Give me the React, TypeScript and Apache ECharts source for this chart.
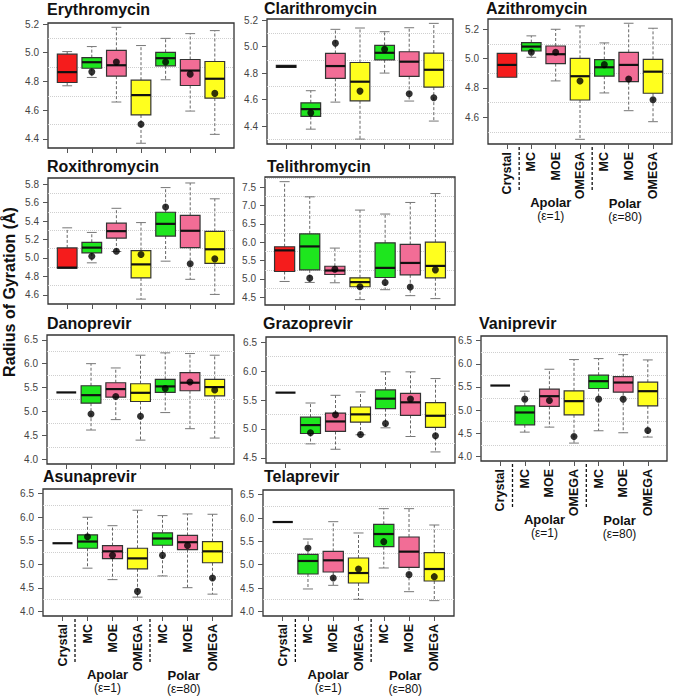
import React, { useEffect, useRef } from "react";
import * as echarts from "echarts";

const CATS = ["Crystal", "MC", "MOE", "OMEGA", "MC", "MOE", "OMEGA"];
const COLORS = ["#F51C1C", "#1EE61E", "#F26D96", "#FFFF1E", "#1EE61E", "#F26D96", "#FFFF1E"];
const FONT = "'Liberation Sans', Arial, Helvetica, sans-serif";

// each box: [lowWhisker, Q1, median, Q3, highWhisker]; dots for MC..OMEGA (categories 2..7)
const erythroBox = [
  [4.77, 4.793, 4.865, 4.99, 5.008],
  [4.828, 4.892, 4.934, 4.966, 5.043],
  [4.657, 4.837, 4.913, 5.017, 5.177],
  [4.37, 4.567, 4.705, 4.809, 5.05],
  [4.812, 4.909, 4.962, 5.003, 5.1],
  [4.594, 4.772, 4.876, 4.953, 5.133],
  [4.432, 4.684, 4.819, 4.939, 5.154],
];
const erythroDots = [4.867, 4.936, 4.502, 4.936, 4.851, 4.717];

const clariBox = [
  [4.843, 4.843, 4.85, 4.858, 4.858],
  [4.377, 4.473, 4.528, 4.576, 4.667],
  [4.581, 4.76, 4.853, 4.948, 5.13],
  [4.302, 4.591, 4.735, 4.88, 5.14],
  [4.8, 4.9, 4.953, 5.009, 5.112],
  [4.589, 4.775, 4.886, 4.961, 5.142],
  [4.438, 4.694, 4.825, 4.951, 5.175],
];
const clariDots = [4.5, 5.026, 4.664, 4.979, 4.644, 4.614];

const aziBox = [
  [4.873, 4.873, 4.957, 5.036, 5.036],
  [5.009, 5.052, 5.082, 5.109, 5.155],
  [4.848, 4.966, 5.03, 5.086, 5.2],
  [4.45, 4.718, 4.88, 5.002, 5.223],
  [4.766, 4.88, 4.941, 4.993, 5.107],
  [4.645, 4.843, 4.957, 5.043, 5.241],
  [4.57, 4.764, 4.911, 4.995, 5.207],
];
const aziDots = [5.043, 5.043, 4.848, 4.959, 4.861, 4.72];

const roxiBox = [
  [4.89, 4.89, 4.895, 5.109, 5.327],
  [4.947, 5.055, 5.112, 5.17, 5.277],
  [5.07, 5.216, 5.291, 5.377, 5.539],
  [4.553, 4.783, 4.93, 5.08, 5.384],
  [4.965, 5.238, 5.37, 5.496, 5.764],
  [4.768, 5.112, 5.295, 5.463, 5.814],
  [4.604, 4.94, 5.094, 5.288, 5.642],
];
const roxiDots = [5.019, 5.073, 5.037, 5.553, 4.937, 4.99];

const teliBox = [
  [4.932, 5.203, 5.779, 5.878, 7.653],
  [4.905, 5.248, 5.887, 6.23, 7.239],
  [4.896, 5.122, 5.23, 5.347, 5.842],
  [4.437, 4.788, 4.914, 5.032, 6.878],
  [4.707, 5.04, 5.302, 5.986, 6.77],
  [4.545, 5.113, 5.437, 5.941, 7.086],
  [4.464, 5.032, 5.356, 6.004, 7.329],
];
const teliDots = [5.022, 5.266, 4.788, 4.905, 4.779, 5.248];

const danoBox = [
  [5.398, 5.398, 5.398, 5.398, 5.398],
  [4.611, 5.173, 5.341, 5.538, 6.0],
  [4.829, 5.299, 5.468, 5.601, 5.91],
  [4.4, 5.208, 5.39, 5.58, 6.177],
  [4.976, 5.398, 5.524, 5.671, 6.226],
  [4.639, 5.433, 5.601, 5.812, 6.212],
  [4.443, 5.327, 5.51, 5.671, 6.177],
];
const danoDots = [4.948, 5.313, 4.899, 5.482, 5.615, 5.447];

const grazoBox = [
  [5.627, 5.627, 5.627, 5.627, 5.627],
  [4.743, 4.922, 5.067, 5.205, 5.448],
  [4.65, 4.957, 5.13, 5.275, 5.581],
  [4.9, 5.119, 5.252, 5.379, 5.639],
  [5.02, 5.35, 5.523, 5.673, 5.986],
  [4.87, 5.234, 5.46, 5.616, 5.986],
  [4.604, 5.026, 5.228, 5.454, 5.87],
];
const grazoDots = [4.934, 5.246, 4.905, 5.096, 5.517, 4.882];

const vaniBox = [
  [5.53, 5.53, 5.53, 5.53, 5.53],
  [4.524, 4.682, 4.948, 5.092, 5.408],
  [4.632, 5.078, 5.3, 5.451, 5.882],
  [4.287, 4.898, 5.193, 5.415, 6.091],
  [4.553, 5.466, 5.624, 5.753, 6.112],
  [4.51, 5.386, 5.595, 5.724, 6.198],
  [4.417, 5.092, 5.408, 5.602, 6.083],
];
const vaniDots = [5.236, 5.207, 4.431, 5.236, 5.236, 4.56];

const asunaBox = [
  [5.447, 5.447, 5.447, 5.447, 5.447],
  [4.917, 5.34, 5.483, 5.626, 5.999],
  [4.673, 5.118, 5.275, 5.397, 5.82],
  [4.301, 4.903, 5.125, 5.34, 6.149],
  [4.752, 5.404, 5.547, 5.669, 6.034],
  [4.502, 5.311, 5.469, 5.612, 6.07],
  [4.365, 5.032, 5.275, 5.483, 6.063],
];
const asunaDots = [5.583, 5.189, 4.423, 5.189, 5.397, 4.709];

const telaBox = [
  [5.914, 5.914, 5.914, 5.914, 5.914],
  [4.479, 4.8, 5.079, 5.221, 5.55],
  [4.557, 4.843, 5.093, 5.286, 5.921],
  [4.257, 4.607, 4.821, 5.143, 5.679],
  [4.929, 5.386, 5.657, 5.864, 6.2],
  [4.421, 4.943, 5.279, 5.593, 6.2],
  [4.229, 4.65, 4.907, 5.257, 5.85],
];
const telaDots = [5.357, 4.714, 4.907, 5.493, 4.786, 4.743];

const ticksMacA = [4.4, 4.6, 4.8, 5.0, 5.2];
const ticksAzi = [4.6, 4.8, 5.0, 5.2];
const ticksRoxi = [4.6, 4.8, 5.0, 5.2, 5.4, 5.6, 5.8];
const ticksTeli = [4.5, 5.0, 5.5, 6.0, 6.5, 7.0, 7.5];
const ticksPrevir = [4.0, 4.5, 5.0, 5.5, 6.0, 6.5];
const ticksGrazo = [4.5, 5.0, 5.5, 6.0, 6.5];

const panels = [
  { name: "Erythromycin", box: erythroBox, dots: erythroDots, yr: [4.337, 5.207], ticks: ticksMacA, grid: [48, 23, 186, 125], title: [47, 1], labels: false },
  { name: "Clarithromycin", box: clariBox, dots: clariDots, yr: [4.265, 5.208], ticks: ticksMacA, grid: [267, 19, 186, 125], title: [264, 0], labels: false },
  { name: "Azithromycin", box: aziBox, dots: aziDots, yr: [4.418, 5.27], ticks: ticksAzi, grid: [488, 19, 184, 125], title: [486, 0], labels: true },
  { name: "Roxithromycin", box: roxiBox, dots: roxiDots, yr: [4.5, 5.868], ticks: ticksRoxi, grid: [48, 178, 186, 126], title: [47, 158], labels: false },
  { name: "Telithromycin", box: teliBox, dots: teliDots, yr: [4.29, 7.78], ticks: ticksTeli, grid: [265, 177, 190, 128], title: [267, 158], labels: false },
  { name: "Danoprevir", box: danoBox, dots: danoDots, yr: [3.9, 6.6], ticks: ticksPrevir, grid: [47, 335, 187, 129], title: [47, 315], labels: false },
  { name: "Grazoprevir", box: grazoBox, dots: grazoDots, yr: [4.413, 6.587], ticks: ticksGrazo, grid: [266, 337, 189, 126], title: [263, 315], labels: false },
  { name: "Vaniprevir", box: vaniBox, dots: vaniDots, yr: [3.9, 6.6], ticks: ticksPrevir, grid: [481, 336, 186, 125], title: [479, 315], labels: true },
  { name: "Asunaprevir", box: asunaBox, dots: asunaDots, yr: [3.9, 6.6], ticks: ticksPrevir, grid: [43, 489, 189, 127], title: [43, 468], labels: true },
  { name: "Telaprevir", box: telaBox, dots: telaDots, yr: [3.9, 6.6], ticks: ticksPrevir, grid: [263, 490, 191, 126], title: [264, 468], labels: true },
];

const XPOS = [1, 2, 3, 4, 5, 6, 7];
const XMIN = 0.22;
const XMAX = 7.78;

function renderBox(params: any, api: any) {
  const x = api.value(0);
  const lo = api.value(1), q1 = api.value(2), md = api.value(3), q3 = api.value(4), hi = api.value(5);
  const half = api.size([0.8, 0])[0] / 2;
  const cap = half * 0.5;
  const pLo = api.coord([x, lo]);
  const pQ1 = api.coord([x, q1]);
  const pMd = api.coord([x, md]);
  const pQ3 = api.coord([x, q3]);
  const pHi = api.coord([x, hi]);
  const cx = pMd[0];
  const fill = COLORS[Math.round(x) - 1];
  const children: any[] = [];
  if (hi > q3) {
    children.push({ type: "line", shape: { x1: cx, y1: pQ3[1], x2: cx, y2: pHi[1] }, style: { stroke: "#666", lineWidth: 1, lineDash: [3, 2] } });
    children.push({ type: "line", shape: { x1: cx - cap, y1: pHi[1], x2: cx + cap, y2: pHi[1] }, style: { stroke: "#777", lineWidth: 1 } });
  }
  if (lo < q1) {
    children.push({ type: "line", shape: { x1: cx, y1: pQ1[1], x2: cx, y2: pLo[1] }, style: { stroke: "#666", lineWidth: 1, lineDash: [3, 2] } });
    children.push({ type: "line", shape: { x1: cx - cap, y1: pLo[1], x2: cx + cap, y2: pLo[1] }, style: { stroke: "#777", lineWidth: 1 } });
  }
  if (q3 > q1) {
    children.push({ type: "rect", shape: { x: cx - half, y: pQ3[1], width: 2 * half, height: pQ1[1] - pQ3[1] }, style: { fill, stroke: "#333", lineWidth: 1.2 } });
  }
  children.push({ type: "line", shape: { x1: cx - half, y1: pMd[1], x2: cx + half, y2: pMd[1] }, style: { stroke: "#111", lineWidth: 2.2 } });
  return { type: "group", children };
}

export default function App() {
  const ref = useRef<HTMLDivElement>(null);
  useEffect(() => {
    const chart = echarts.init(ref.current!, null, { renderer: "svg" });
    const grids: any[] = [];
    const xAxes: any[] = [];
    const yAxes: any[] = [];
    const series: any[] = [];
    const graphic: any[] = [];
    panels.forEach((p, k) => {
      const [gl0, gt0, gw, gh] = p.grid;
      grids.push({
        left: gl0, top: gt0, width: gw, height: gh,
        show: true, borderColor: "#333", borderWidth: 1.3,
        containLabel: false, outerBoundsMode: "none",
      });
      xAxes.push({
        type: "value", gridIndex: k, min: XMIN, max: XMAX,
        axisLine: { show: false }, splitLine: { show: false },
        axisTick: { show: true, customValues: XPOS, length: 5, lineStyle: { color: "#555" } },
        axisLabel: p.labels
          ? { show: true, customValues: XPOS, formatter: (v: number) => CATS[Math.round(v) - 1], rotate: 90, fontWeight: "bold", fontSize: 12.5, color: "#111", margin: 8, fontFamily: FONT, hideOverlap: false }
          : { show: false },
      });
      yAxes.push({
        type: "value", gridIndex: k, min: p.yr[0], max: p.yr[1],
        axisLine: { show: false }, splitLine: { show: false },
        axisTick: { show: true, customValues: p.ticks, length: 5, lineStyle: { color: "#555" } },
        axisLabel: { show: true, customValues: p.ticks, formatter: (v: number) => v.toFixed(1), fontSize: 10, color: "#444", margin: 9, fontFamily: FONT, hideOverlap: false, showMinLabel: true, showMaxLabel: true },
      });
      const step = p.ticks[1] - p.ticks[0];
      const gl: number[] = [];
      for (let t = p.ticks[0] - step / 2; t < p.yr[1]; t += step) if (t > p.yr[0]) gl.push(+t.toFixed(3));
      series.push({
        type: "custom", xAxisIndex: k, yAxisIndex: k, renderItem: renderBox, clip: false, z: 2,
        encode: { x: 0, y: [1, 2, 3, 4, 5] },
        data: p.box.map((b, i) => [XPOS[i], ...b]),
        silent: true,
      });
      series.push({
        type: "scatter", xAxisIndex: k, yAxisIndex: k, symbolSize: 7, z: 3, silent: true, clip: false,
        itemStyle: { color: "#000" },
        data: p.dots.map((v, i) => [XPOS[i + 1], v]),
        markLine: {
          silent: true, symbol: ["none", "none"], label: { show: false }, z: 1,
          lineStyle: { color: "#cfcfcf", type: "dotted", width: 1 },
          data: gl.map((v) => ({ yAxis: v })),
        },
      });

      graphic.push({
        type: "text", x: p.title[0], y: p.title[1],
        style: { text: p.name, fontSize: 16, fontWeight: "bold", fontFamily: FONT, fill: "#111", verticalAlign: "top", align: "left" },
      });
      if (p.labels) {
        const xPix = (v: number) => gl0 + ((v - XMIN) / (XMAX - XMIN)) * gw;
        const bottom = gt0 + gh;
        [1.5, 4.5].forEach((sx) => {
          const px = xPix(sx);
          graphic.push({ type: "line", shape: { x1: px, y1: bottom + 3, x2: px, y2: bottom + 48 }, style: { stroke: "#111", lineWidth: 1.3, lineDash: [3, 2] } });
        });
        const ax = xPix(2.8);
        const px2 = xPix(5.85);
        graphic.push({ type: "text", x: ax, y: bottom + 58, style: { text: "Apolar", fontSize: 13, fontWeight: "bold", fontFamily: FONT, fill: "#111", align: "center", verticalAlign: "middle" } });
        graphic.push({ type: "text", x: ax, y: bottom + 72, style: { text: "(ε=1)", fontSize: 12, fontFamily: FONT, fill: "#111", align: "center", verticalAlign: "middle" } });
        graphic.push({ type: "text", x: px2, y: bottom + 59, style: { text: "Polar", fontSize: 13, fontWeight: "bold", fontFamily: FONT, fill: "#111", align: "center", verticalAlign: "middle" } });
        graphic.push({ type: "text", x: px2, y: bottom + 73, style: { text: "(ε=80)", fontSize: 12, fontFamily: FONT, fill: "#111", align: "center", verticalAlign: "middle" } });
      }
    });
    graphic.push({
      type: "text", x: 9, y: 292, rotation: Math.PI / 2,
      style: { text: "Radius of Gyration (Å)", fontSize: 16, fontWeight: "bold", fontFamily: FONT, fill: "#111", align: "center", verticalAlign: "middle" },
    });

    chart.setOption({
      animation: false,
      backgroundColor: "#fff",
      textStyle: { fontFamily: FONT },
      grid: grids, xAxis: xAxes, yAxis: yAxes, series, graphic,
    });

    return () => chart.dispose();
  }, []);
  return <div ref={ref} style={{ position: "absolute", left: 0, top: 0, width: 675, height: 696, background: "#fff" }} />;
}
